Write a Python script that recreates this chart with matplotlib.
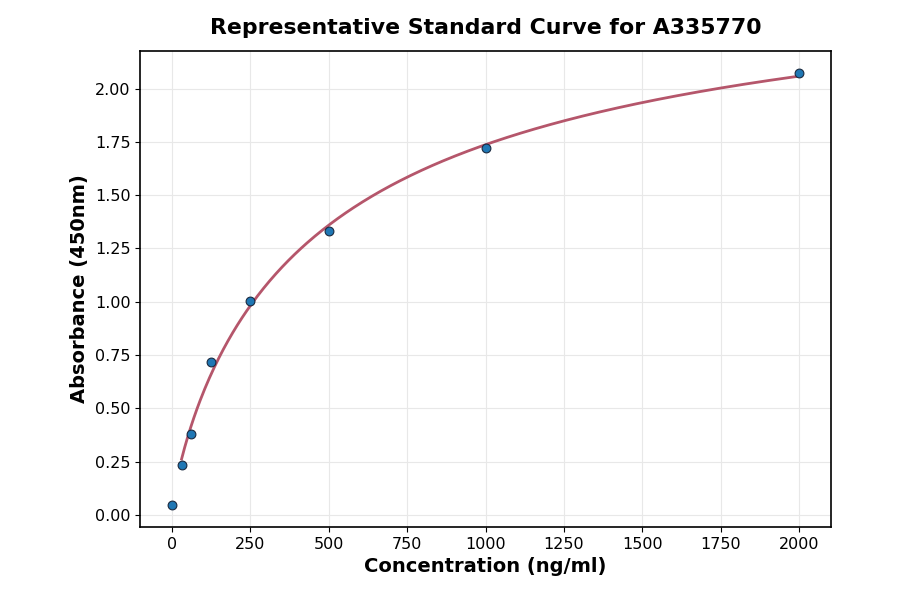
import numpy as np
import matplotlib
matplotlib.use('Agg')
import matplotlib.pyplot as plt

# standard points
conc = np.array([0, 31.25, 62.5, 125, 250, 500, 1000, 2000])
od = np.array([0.045, 0.235, 0.38, 0.715, 1.005, 1.33, 1.72, 2.075])

title = 'Representative Standard Curve for A335770'
xlab = 'Concentration (ng/ml)'
ylab = 'Absorbance (450nm)'


def fourpl(x, a, b, c, d):
    return d + (a - d) / (1.0 + (x / c) ** b)


def fit4pl(x, y, p):
    # small levenberg-marquardt, enough for 8 points
    p = np.array(p, dtype=float)
    lam = 1e-2
    for _ in range(800):
        r = y - fourpl(x, *p)
        J = np.zeros((len(x), 4))
        for i in range(4):
            dp = np.zeros(4)
            dp[i] = 1e-6 * max(abs(p[i]), 1e-3)
            J[:, i] = (fourpl(x, *(p + dp)) - fourpl(x, *p)) / dp[i]
        A = J.T @ J
        g = J.T @ r
        step = np.linalg.solve(A + lam * np.diag(np.diag(A)) + 1e-12 * np.eye(4), g)
        pn = p + step
        if pn[2] > 0 and pn[1] > 0 and np.sum((y - fourpl(x, *pn)) ** 2) < np.sum(r ** 2):
            p = pn
            lam *= 0.5
        else:
            lam *= 4
    return p


# fit on every standard, including the blank
params = fit4pl(conc, od, [0.04, 1.0, 500.0, 2.6])
xs = np.linspace(conc[1], conc.max(), 400)

fig = plt.figure(figsize=(9, 5.94), dpi=100)
ax = fig.add_axes([0.156, 0.113, 0.767, 0.801])
ax.plot(xs, fourpl(xs, *params), color='#b5566b', lw=2, zorder=2)
ax.scatter(conc, od, s=40, color='#1f77b4', edgecolor='#1a2a40', linewidth=0.8, zorder=3)
ax.grid(True, color='#e8e8e8', lw=0.8)
ax.set_axisbelow(True)
ax.set_xticks(np.arange(0, 2001, 250))
ax.set_yticks(np.arange(0, 2.01, 0.25))
ax.yaxis.set_major_formatter(matplotlib.ticker.FormatStrFormatter('%.2f'))
ax.tick_params(labelsize=11.5)
for s in ax.spines.values():
    s.set_linewidth(1.2)
ax.set_xlabel(xlab, fontsize=14, fontweight='bold')
ax.set_ylabel(ylab, fontsize=14, fontweight='bold')
ax.set_title(title, fontsize=15.8, fontweight='bold', pad=12)
fig.savefig('out.png', dpi=100)
